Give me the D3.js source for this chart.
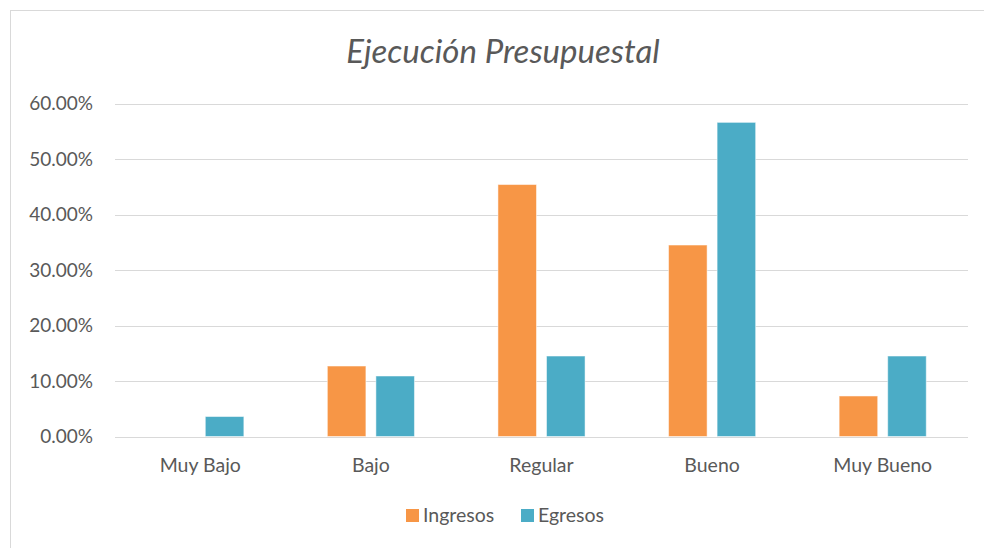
<!DOCTYPE html>
<html>
<head>
<meta charset="utf-8">
<script src="https://cdn.jsdelivr.net/npm/d3@7"></script>
<style>
  html, body { margin: 0; padding: 0; background: #fff; }
  svg { display: block; }
  text { font-family: Lato, "Open Sans", sans-serif; fill: #595959; }
</style>
</head>
<body>
<svg id="chart" width="984" height="548"></svg>
<script>
// Budget execution rating distribution (share of entities per rating)
const categories = ["Muy Bajo", "Bajo", "Regular", "Bueno", "Muy Bueno"];
const seriesNames = ["Ingresos", "Egresos"];
const ingresos = [0.0, 12.7, 45.4, 34.5, 7.3];
const egresos = [3.6, 10.9, 14.5, 56.6, 14.5];
const yTicks = [0, 10, 20, 30, 40, 50, 60];
const colors = ["#F79646", "#4BACC6"];

const W = 984, H = 548;
const margin = { top: 103.5, right: 16, bottom: 111.5, left: 115 };
const svg = d3.select("#chart");

// chart area frame
svg.append("rect")
  .attr("x", 10.5).attr("y", 10.5)
  .attr("width", W).attr("height", H)
  .attr("fill", "#fff").attr("stroke", "#d9d9d9").attr("stroke-width", 1);

const x0 = d3.scaleBand().domain(categories)
  .range([margin.left, W - margin.right]).paddingInner(0).paddingOuter(0);
const y = d3.scaleLinear().domain([0, 60]).range([H - margin.bottom, margin.top]);

// gridlines
svg.append("g").selectAll("line").data(yTicks).join("line")
  .attr("x1", margin.left).attr("x2", W - margin.right)
  .attr("y1", d => Math.round(y(d)) + 0.5).attr("y2", d => Math.round(y(d)) + 0.5)
  .attr("stroke", "#d9d9d9").attr("stroke-width", 1.2);

// y axis labels
const yAxis = d3.axisLeft(y).tickValues(yTicks).tickSize(0).tickPadding(0)
  .tickFormat(d => d.toFixed(2) + "%");
const gy = svg.append("g").attr("transform", `translate(93,0)`).call(yAxis);
gy.select(".domain").remove();
gy.selectAll("text").style("font-size", "19px").attr("fill", "#595959")
  .style("font-family", "Lato, sans-serif");

// bars
const barW = x0.bandwidth() * 0.226;
const gap = 10;
const rows = categories.map((c, i) => ({ cat: c, vals: [ingresos[i], egresos[i]] }));
const groups = svg.append("g").selectAll("g").data(rows).join("g")
  .attr("transform", d => `translate(${x0(d.cat) + x0.bandwidth() / 2},0)`);
groups.selectAll("rect").data(d => d.vals.map((v, k) => ({ v, k }))).join("rect")
  .filter(d => d.v > 0)
  .attr("x", d => d.k === 0 ? -gap / 2 - barW : gap / 2)
  .attr("width", barW)
  .attr("y", d => y(d.v))
  .attr("height", d => y(0) - y(d.v))
  .attr("fill", d => colors[d.k])
  .attr("stroke", "#fff").attr("stroke-opacity", 0.5).attr("stroke-width", 1);

// category labels
const xAxis = d3.axisBottom(x0).tickSize(0).tickPadding(0);
const gx = svg.append("g").attr("transform", `translate(0,${y(0)})`).call(xAxis);
gx.select(".domain").remove();
gx.selectAll("text").attr("dy", null).attr("y", 35)
  .style("font-size", "19.5px").attr("fill", "#595959")
  .style("font-family", "Lato, sans-serif");

// title
svg.append("text")
  .attr("x", 503).attr("y", 63)
  .attr("text-anchor", "middle")
  .style("font-size", "33px").style("font-style", "italic")
  .text("Ejecución Presupuestal");

// legend
const legend = svg.append("g");
const legendItems = [{ name: seriesNames[0], x: 406 }, { name: seriesNames[1], x: 521 }];
legendItems.forEach((it, k) => {
  legend.append("rect").attr("x", it.x).attr("y", 509).attr("width", 13).attr("height", 13)
    .attr("fill", colors[k]);
  legend.append("text").attr("x", it.x + 17).attr("y", 522)
    .style("font-size", "19.5px").text(it.name);
});
</script>
</body>
</html>
